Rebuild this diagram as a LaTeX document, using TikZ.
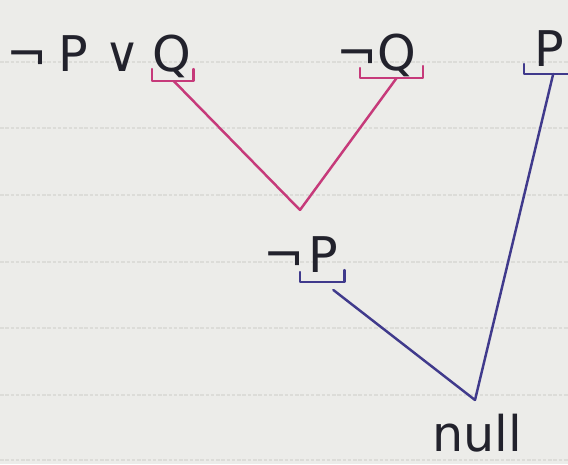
\documentclass[tikz,border=0pt]{standalone}
\usepackage{fontspec}
\setmainfont{DejaVu Sans}
\usepackage{xcolor}
\usetikzlibrary{calc}

\definecolor{paper}{RGB}{236,236,233}
\definecolor{ruling}{RGB}{220,220,216}
\definecolor{ink}{RGB}{34,34,44}
\definecolor{pinkpen}{RGB}{198,58,122}
\definecolor{bluepen}{RGB}{64,58,140}

\begin{document}
\begin{tikzpicture}[
x=0.02cm,
y=-0.02cm,
lit/.style={
inner sep=0pt,
anchor=base west,
text=ink,
font=\fontsize{28}{30}\selectfont
},
pick/.style={
line width=1.3pt,
line cap=round,
line join=round
},
link/.style={line width=1.4pt, line cap=round}
]

% Paper
\useasboundingbox (0,0) rectangle (568,464);
\clip (0,0) rectangle (568,464);
\fill[paper] (0,0) rectangle (568,464);
\foreach \y in {62,128,195,262,328,395,460}
\draw[ruling, line width=0.6pt, dash pattern=on 2pt off 1pt] (0,\y) -- (568,\y);

% Clauses
\node[lit] (neg1) at (6,71) {¬};
\node[lit] (p0) at (58,71) {P};
\node[lit] (or) at (104,71) {∨};
\node[lit] (q1) at (152,71) {Q};
\node[lit] (nq) at (336,70) {¬Q};
\node[lit] (p1) at (534,66) {P};

% Resolvent
\node[lit] (neg) at (263,272) {¬};
\node[lit] (p2) at (308,272) {P};

% Empty clause
\node[lit] (null) at (432,451) {null};

% Junctions
\coordinate (j1) at (300,210);
\coordinate (j2) at (475,400);

% Brackets
\draw[pick,pinkpen] ($(q1.base west)+(0,-2)$) -- ++(0,12) -| ($(q1.base east)+(2,-2)$);
\draw[pick,pinkpen] ($(nq.base west)+(24,-2)$) -- ++(0,10) -| ($(nq.base east)+(6,-4)$);
\draw[pick,bluepen] ($(p1.base west)+(-10,-2)$) -- ++(0,10) -- ++(60,0);
\draw[pick,bluepen] ($(p2.base west)+(-8,0)$) -- ++(0,10) -| ($(p2.base east)+(6,-2)$);

% Arrows
\draw[link,pinkpen] ($(q1.base)+(2,10)$) -- (j1);
\draw[link,pinkpen] ($(nq.base east)+(-20,8)$) -- (j1);
\draw[link,bluepen] ($(p1.base)+(4,8)$) -- (j2);
\draw[link,bluepen] ($(p2.base east)+(-5,18)$) -- (j2);

\end{tikzpicture}
\end{document}
